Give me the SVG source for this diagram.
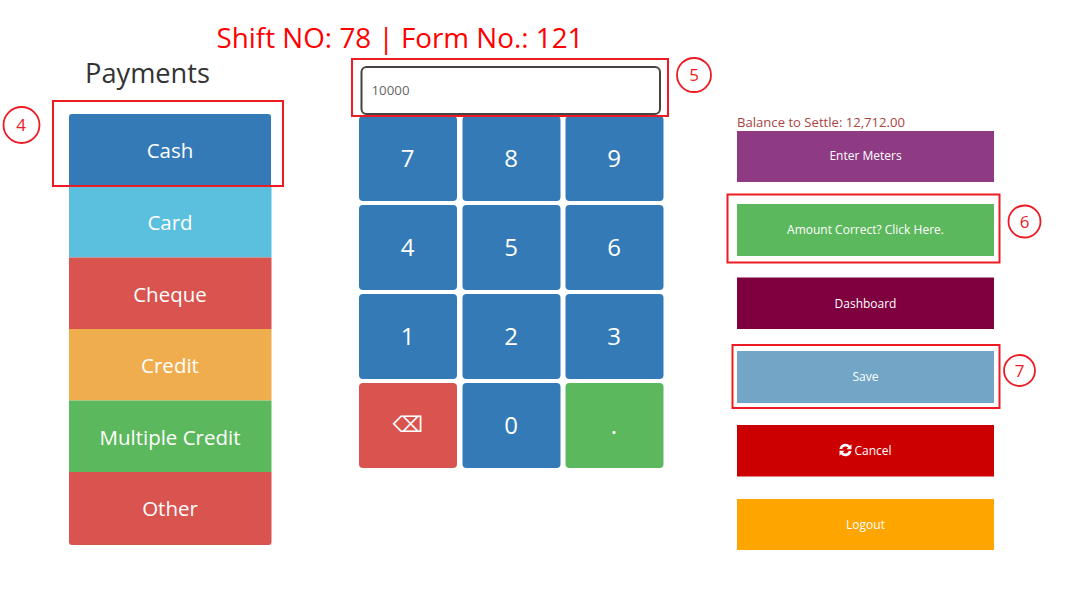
<svg xmlns="http://www.w3.org/2000/svg" width="1080" height="590" viewBox="0 0 1080 590">
<style>
text{font-family:"Open Sans","Noto Sans","Liberation Sans",sans-serif;text-anchor:middle}
.w{fill:#fff}
.pay{font-size:20.500px}
.key{font-size:24px}
.side{font-size:12px}
.box{fill:none;stroke:#ed1c24;stroke-width:2}
.num{fill:none;stroke:#ed1c24;stroke-width:1.800}
.n{fill:#ed1c24;font-size:17px}
</style>
<rect width="1080" height="590" fill="#fff"/>
<g id="title"><text x="400" y="48" font-size="27" fill="#ff0000" textLength="367" lengthAdjust="spacingAndGlyphs">Shift NO: 78 | Form No.: 121</text></g>
<g id="payments-heading"><text x="147.500" y="82.500" font-size="27" fill="#333" textLength="125" lengthAdjust="spacingAndGlyphs">Payments</text></g>
<g id="payments">
<g id="pay-cash"><path d="M69 186V117a3 3 0 0 1 3-3H268a3 3 0 0 1 3 3V186Z" fill="#337ab7"/><text class="w pay" x="170" y="158">Cash</text></g>
<g id="pay-card"><rect x="69" y="186" width="202.500" height="71.500" fill="#5bc0de"/><text class="w pay" x="170" y="230">Card</text></g>
<g id="pay-cheque"><rect x="69" y="257.500" width="202.500" height="71.500" fill="#d9534f"/><text class="w pay" x="170" y="301.500">Cheque</text></g>
<g id="pay-credit"><rect x="69" y="329" width="202.500" height="71.500" fill="#f0ad4e"/><text class="w pay" x="170" y="373">Credit</text></g>
<g id="pay-multiple"><rect x="69" y="400.500" width="202.500" height="71.500" fill="#5cb85c"/><text class="w pay" x="170" y="444.500">Multiple Credit</text></g>
<g id="pay-other"><path d="M69 472H271.500V542a3 3 0 0 1-3 3H72a3 3 0 0 1-3-3Z" fill="#d9534f"/><text class="w pay" x="170" y="516">Other</text></g>
</g>
<g id="amount-input"><rect x="361.500" y="67" width="298.500" height="47" rx="5" fill="#fff" stroke="#444" stroke-width="2"/><text x="390.500" y="95" font-size="13.300" fill="#666">10000</text></g>
<g id="keypad">
<g id="key-7"><rect x="359" y="116" width="98" height="85" rx="4" fill="#337ab7"/><text class="w key" x="407.500" y="167">7</text></g>
<g id="key-8"><rect x="462.500" y="116" width="98" height="85" rx="4" fill="#337ab7"/><text class="w key" x="511" y="167">8</text></g>
<g id="key-9"><rect x="565.500" y="116" width="98" height="85" rx="4" fill="#337ab7"/><text class="w key" x="614" y="167">9</text></g>
<g id="key-4"><rect x="359" y="205" width="98" height="85" rx="4" fill="#337ab7"/><text class="w key" x="407.500" y="255.500">4</text></g>
<g id="key-5"><rect x="462.500" y="205" width="98" height="85" rx="4" fill="#337ab7"/><text class="w key" x="511" y="255.500">5</text></g>
<g id="key-6"><rect x="565.500" y="205" width="98" height="85" rx="4" fill="#337ab7"/><text class="w key" x="614" y="255.500">6</text></g>
<g id="key-1"><rect x="359" y="294" width="98" height="85" rx="4" fill="#337ab7"/><text class="w key" x="407.500" y="344.500">1</text></g>
<g id="key-2"><rect x="462.500" y="294" width="98" height="85" rx="4" fill="#337ab7"/><text class="w key" x="511" y="344.500">2</text></g>
<g id="key-3"><rect x="565.500" y="294" width="98" height="85" rx="4" fill="#337ab7"/><text class="w key" x="614" y="344.500">3</text></g>
<g id="key-back"><rect x="359" y="383" width="98" height="85" rx="4" fill="#d9534f"/><text class="w" x="408" y="432" font-size="21.500" style="font-family:'DejaVu Sans',sans-serif">⌫</text></g>
<g id="key-0"><rect x="462.500" y="383" width="98" height="85" rx="4" fill="#337ab7"/><text class="w key" x="511" y="433.500">0</text></g>
<g id="key-dot"><rect x="565.500" y="383" width="98" height="85" rx="4" fill="#5cb85c"/><text class="w key" x="614" y="433.500">.</text></g>
</g>
<g id="balance"><text x="821" y="127" font-size="12.500" fill="#a94442" textLength="168" lengthAdjust="spacingAndGlyphs">Balance to Settle: 12,712.00</text></g>
<g id="btn-meters"><rect x="737" y="131" width="257" height="51" fill="#8e3b84"/><text class="w side" x="865.500" y="160">Enter Meters</text></g>
<g id="btn-correct"><rect x="737" y="204" width="257" height="52" fill="#5cb85c"/><text class="w side" x="865.500" y="234">Amount Correct? Click Here.</text></g>
<g id="btn-dashboard"><rect x="737" y="277.500" width="257" height="51.500" fill="#7e003f"/><text class="w side" x="865.500" y="307.500">Dashboard</text></g>
<g id="btn-save"><rect x="737" y="351" width="257" height="52" fill="#72a5c6"/><text class="w side" x="865.500" y="381">Save</text></g>
<g id="btn-cancel"><rect x="737" y="425" width="257" height="51.500" fill="#cc0000"/><path d="M839.500 449a6 6 0 0 1 10.500-3.200l1.500-1.500v5h-5l1.700-1.700a3.600 3.600 0 0 0-6 1.400ZM851.500 451a6 6 0 0 1-10.500 3.200l-1.500 1.500v-5h5l-1.700 1.700a3.600 3.600 0 0 0 6-1.400Z" fill="#fff"/><text class="w side" x="873" y="454.500">Cancel</text></g>
<g id="btn-logout"><rect x="737" y="499" width="257" height="51" fill="#ffa500"/><text class="w side" x="865.500" y="528.500">Logout</text></g>
<g id="callout-4"><rect class="box" x="53" y="101" width="230" height="85"/><circle class="num" cx="21.500" cy="125" r="18"/><text class="n" x="21" y="131">4</text></g>
<g id="callout-5"><rect class="box" x="352" y="59" width="316" height="57"/><circle class="num" cx="694" cy="75" r="17"/><text class="n" x="694" y="81">5</text></g>
<g id="callout-6"><rect class="box" x="727.500" y="194.500" width="272" height="68"/><circle class="num" cx="1024.500" cy="221.500" r="16"/><text class="n" x="1024.500" y="228">6</text></g>
<g id="callout-7"><rect class="box" x="732.500" y="345" width="267" height="63"/><circle class="num" cx="1019.500" cy="370.500" r="15.500"/><text class="n" x="1019.500" y="377">7</text></g>
</svg>
